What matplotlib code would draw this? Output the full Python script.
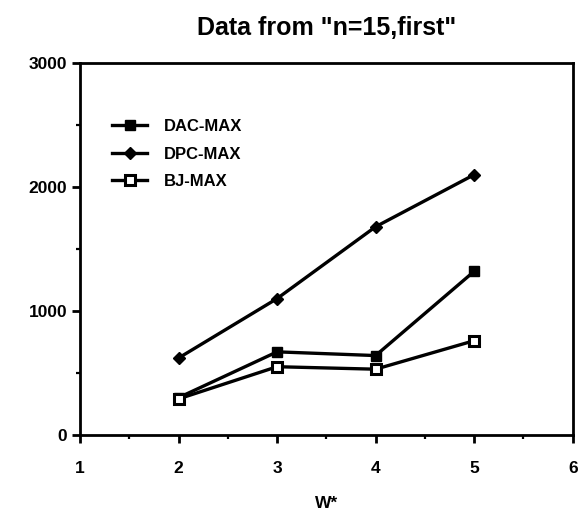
import matplotlib.pyplot as plt
from matplotlib.ticker import MultipleLocator

plt.rcParams['font.family'] = ['Liberation Sans', 'DejaVu Sans']
plt.rcParams['font.weight'] = 'bold'

# W* values and the three max series
w = [2, 3, 4, 5]
dac_max = [300, 670, 640, 1320]
dpc_max = [620, 1100, 1680, 2100]
bj_max = [290, 550, 530, 760]

fig = plt.figure(figsize=(5.88, 5.14), dpi=100)
ax = fig.add_axes([0.136, 0.154, 0.838, 0.723])

ax.plot(w, dac_max, color='k', lw=2.4, marker='s', ms=7.5,
        mfc='k', mec='k', label='DAC-MAX')
ax.plot(w, dpc_max, color='k', lw=2.4, marker='D', ms=6.5,
        mfc='k', mec='k', label='DPC-MAX')
ax.plot(w, bj_max, color='k', lw=2.4, marker='s', ms=7.5,
        mfc='white', mec='k', mew=2.2, label='BJ-MAX')

ax.set_xlim(1, 6)
ax.set_ylim(0, 3000)
ax.xaxis.set_major_locator(MultipleLocator(1))
ax.xaxis.set_minor_locator(MultipleLocator(0.5))
ax.yaxis.set_major_locator(MultipleLocator(1000))
ax.yaxis.set_minor_locator(MultipleLocator(500))
ax.tick_params(which='major', direction='out', length=6, width=2,
               labelsize=12.5)
ax.tick_params(which='minor', direction='out', length=3, width=1.6)
ax.tick_params(axis='x', pad=13)
ax.tick_params(axis='y', pad=3)
for s in ax.spines.values():
    s.set_linewidth(2)

ax.set_xlabel('W*', fontsize=12.5, fontweight='bold', labelpad=14)
ax.set_title('Data from "n=15,first"', fontsize=18, fontweight='bold', pad=20)

leg = ax.legend(loc='upper left', bbox_to_anchor=(0.035, 0.89), frameon=False,
                fontsize=12, handlelength=2.1, handletextpad=1.0,
                labelspacing=0.75)

fig.savefig('out.png', dpi=100)
